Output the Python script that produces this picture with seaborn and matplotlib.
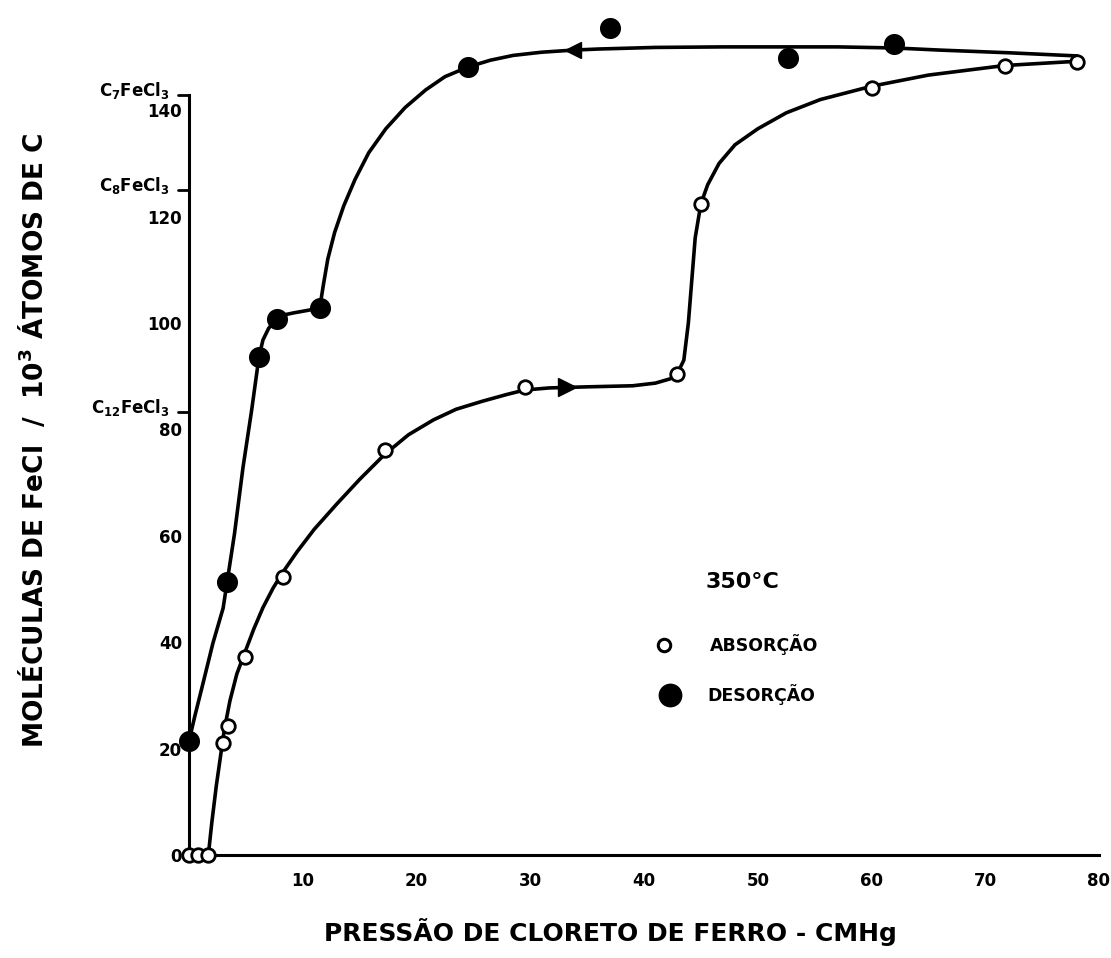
import matplotlib
matplotlib.use("Agg")
import matplotlib.pyplot as plt
import seaborn as sns
import pandas as pd

# ---- data ----
abs_x = [0, 0.8, 1.7, 3.0, 3.4, 4.9, 8.3, 17.2, 29.5, 42.9, 45.0, 60.0, 71.7, 78.1]
abs_y = [0, 0, 0, 21.0, 24.3, 37.3, 52.2, 76.1, 87.9, 90.4, 122.4, 144.1, 148.4, 149.0]

des_x = [0, 3.35, 6.15, 7.7, 11.5, 24.5, 37.0, 52.7, 62.0]
des_y = [21.4, 51.3, 93.6, 100.7, 102.9, 148.1, 155.4, 149.8, 152.4]

# hand-drawn curves
abs_curve_x = [1.7, 2.0, 2.4, 2.8, 3.1, 3.6, 4.2, 4.9, 5.7, 6.5, 7.4, 8.3, 9.5, 11.0, 13.0, 15.0,
               17.2, 19.3, 21.5, 23.5, 25.8, 28.0, 29.5, 31.7, 35.0, 39.0, 41.0, 42.3, 42.9,
               43.5, 43.9, 44.2, 44.5, 45.0, 45.6, 46.6, 48.0, 50.0, 52.5, 55.5, 60.0, 65.0,
               71.7, 78.1]
abs_curve_y = [0, 6, 13, 19, 23.5, 29, 34, 38, 42.5, 46.5, 50.2, 53.3, 57.0, 61.2, 66.0, 70.6,
               75.3, 79.0, 81.8, 83.8, 85.3, 86.6, 87.4, 87.8, 88.0, 88.2, 88.7, 89.5, 90.4,
               93, 100, 108, 116, 122.4, 126, 130, 133.5, 136.5, 139.5, 142, 144.5, 146.6,
               148.4, 149.2]

des_curve_x = [78.1, 72, 66, 62, 57, 52.7, 47, 41, 36, 33.8, 31, 28.5, 26.5, 24.5, 22.5, 20.8,
               19.0, 17.3, 15.8, 14.6, 13.6, 12.8, 12.2, 11.8, 11.5, 10.5, 9.2, 8.3, 7.7, 7.0,
               6.5, 6.15, 5.5, 4.75, 4.0, 3.35, 3.0, 2.1, 1.2, 0.5, 0, 0]
des_curve_y = [150.2, 150.8, 151.3, 151.7, 151.9, 151.9, 151.9, 151.8, 151.5, 151.3, 150.9, 150.3,
               149.4, 148.1, 146.3, 143.8, 140.5, 136.5, 132, 127, 122, 117, 112, 107, 102.9,
               102.4, 101.9, 101.5, 100.7, 99.0, 96.8, 93.6, 83.5, 72.9, 60.4, 51.3, 46.4, 39.8,
               32.0, 26.0, 21.4, 0]

arrow_abs = (33.2, 87.9)
arrow_des = (33.8, 151.3)

x_ticks = [10, 20, 30, 40, 50, 60, 70, 80]
y_ticks = [0, 20, 40, 60, 80, 100, 120, 140]
compound_labels = ["C$_7$FeCl$_3$", "C$_8$FeCl$_3$", "C$_{12}$FeCl$_3$"]
compound_values = [1000 / 7, 1000 / 8, 1000 / 12]

# ---- figure ----
sns.set_style("white")
plt.rcParams["font.family"] = ["DejaVu Sans"]
plt.rcParams["font.weight"] = "bold"
plt.rcParams["mathtext.default"] = "bf"
plt.rcParams["text.color"] = "black"
plt.rcParams["xtick.color"] = "black"
plt.rcParams["ytick.color"] = "black"
plt.rcParams["axes.labelcolor"] = "black"

W, H = 1111, 958
fig = plt.figure(figsize=(W / 100, H / 100), dpi=100)
x0px, x80px, y0px = 189, 1099, 855
pxy = 5.32
ymax = 160
ax = fig.add_axes([x0px / W, (H - y0px) / H, (x80px - x0px) / W, ymax * pxy / H])
ax.set_xlim(0, 80)
ax.set_ylim(0, ymax)

lw = 2.6
abs_curve = pd.DataFrame({"x": abs_curve_x, "y": abs_curve_y})
des_curve = pd.DataFrame({"x": des_curve_x, "y": des_curve_y})
sns.lineplot(data=abs_curve, x="x", y="y", sort=False, estimator=None, color="black",
             linewidth=lw, ax=ax, zorder=2)
sns.lineplot(data=des_curve, x="x", y="y", sort=False, estimator=None, color="black",
             linewidth=lw, ax=ax, zorder=2)
for ln in ax.lines:
    ln.set_solid_joinstyle("round")
    ln.set_solid_capstyle("round")

abs_df = pd.DataFrame({"x": abs_x, "y": abs_y})
des_df = pd.DataFrame({"x": des_x, "y": des_y})
sns.scatterplot(data=abs_df, x="x", y="y", marker="o", s=95, facecolor="white",
                edgecolor="black", linewidth=2.0, ax=ax, zorder=4, clip_on=False)
sns.scatterplot(data=des_df, x="x", y="y", marker="o", s=230, color="black",
                edgecolor="black", linewidth=0, ax=ax, zorder=4, clip_on=False)

ax.plot([arrow_abs[0]], [arrow_abs[1]], marker=">", ms=13, color="black", zorder=5)
ax.plot([arrow_des[0]], [arrow_des[1]], marker="<", ms=12, color="black", zorder=5)

# spines / ticks
sns.despine(ax=ax, top=True, right=True)
for s in ("left", "bottom"):
    ax.spines[s].set_linewidth(2.2)
    ax.spines[s].set_color("black")
ax.spines["left"].set_bounds(0, compound_values[0])
ax.spines["bottom"].set_bounds(0, 80)
ax.set_xticks(x_ticks)
ax.set_xticklabels([str(v) for v in x_ticks])
ax.set_yticks(y_ticks)
ax.set_yticklabels([str(v) for v in y_ticks])
ax.tick_params(axis="x", direction="in", length=9, width=2, pad=12, labelsize=12, colors="black")
ax.tick_params(axis="y", direction="in", length=9, width=2, pad=5, labelsize=12, colors="black")
for t in ax.get_xticklabels() + ax.get_yticklabels():
    t.set_fontweight("bold")
ax.set_xlabel("")
ax.set_ylabel("")

# compound reference marks on the y axis
for lab, v in zip(compound_labels, compound_values):
    ax.plot([-1.0, 0], [v, v], color="black", lw=2, clip_on=False)
    ax.annotate(lab, xy=(0, v), xycoords="data", xytext=(-14, 3), textcoords="offset points",
                ha="right", va="center", fontsize=12, fontweight="bold", annotation_clip=False)

# legend block
ax.text(45.4, 51.3, "350°C", fontsize=16, fontweight="bold", ha="left", va="center")
ax.scatter([41.8], [39.5], s=80, facecolor="white", edgecolor="black", linewidth=2.2, zorder=4)
ax.text(45.8, 39.5, "ABSORÇÃO", fontsize=12.5, fontweight="bold", ha="left", va="center")
ax.scatter([42.3], [30.1], s=260, color="black", zorder=4)
ax.text(45.6, 30.1, "DESORÇÃO", fontsize=12.5, fontweight="bold", ha="left", va="center")

# axis titles
fig.text(610 / W, 1 - 932 / H, "PRESSÃO DE CLORETO DE FERRO - CMHg", fontsize=18,
         fontweight="bold", ha="center", va="center")
fig.text(34 / W, 1 - 440 / H, "MOLÉCULAS DE FeCl  /  10$^3$ ÁTOMOS DE C", fontsize=19,
         fontweight="bold", ha="center", va="center", rotation=90)

fig.savefig("out.png", dpi=100)
